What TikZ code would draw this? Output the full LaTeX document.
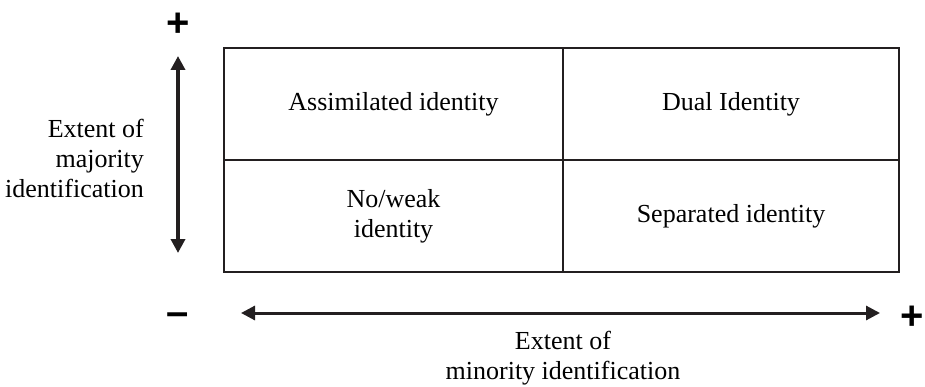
\documentclass[tikz,border=0pt]{standalone}
\usepackage{fontspec}
\setmainfont{Liberation Serif}
\newfontfamily\signfont{Liberation Sans}
\usetikzlibrary{arrows.meta}
\definecolor{ink}{HTML}{231F20}
\begin{document}
\begin{tikzpicture}[x=1pt,y=-1pt,
  celltext/.style={font=\fontsize{26}{30}\selectfont, align=center, text=black},
  axislabel/.style={font=\fontsize{26}{30}\selectfont, text=black, inner sep=1pt},
  sign/.style={font=\signfont\bfseries\fontsize{40}{40}\selectfont, text=black, inner sep=0pt, anchor=base},
  grid/.style={draw=ink, line width=2pt},
  axis/.style={draw=ink, line width=3.5pt, {Triangle[length=14pt,width=14pt]}-{Triangle[length=14pt,width=14pt]}}
]
\useasboundingbox (0,0) rectangle (925,387);

% the 2x2 grid of identity types
\draw[grid] (224,48) rectangle (899,272);
\draw[grid] (563,48) -- (563,272);
\draw[grid] (224,160) -- (899,160);

\node[celltext] (assim) at (393.5,104) {Assimilated identity};
\node[celltext] (dual) at (731,104) {Dual Identity};
\node[celltext] (weak) at (393.5,216) {No/weak\\identity};
\node[celltext] (sep) at (731,216) {Separated identity};

% vertical axis: majority identification
\coordinate (vtop) at (178,56);
\coordinate (vbot) at (178,253);
\draw[axis] (vtop) -- (vbot);
\node[sign] (vplus) at (178,37) {+};
\node[axislabel, align=right, anchor=east] (vlab) at (145,158) {Extent of\\majority\\identification};

% horizontal axis: minority identification
\coordinate (hleft) at (241,313);
\coordinate (hright) at (880,313);
\draw[axis, line width=3pt] (hleft) -- (hright);
\node[sign] (hminus) at (178,325) {\char"2013};
\node[sign] (hplus) at (912,329) {+};
\node[axislabel, align=center] (hlab) at (563,358) {Extent of\\minority identification};
\end{tikzpicture}
\end{document}
